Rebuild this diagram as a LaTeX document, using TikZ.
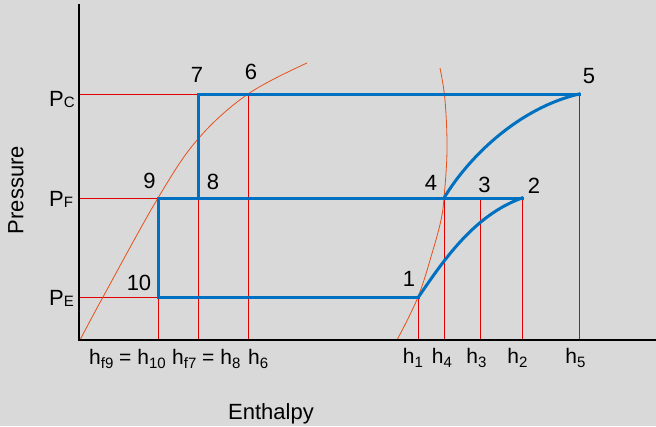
\documentclass[tikz,border=0pt]{standalone}
\usepackage{fontspec}
\setmainfont{Liberation Sans}
\definecolor{bgc}{HTML}{D9D9D9}
\definecolor{cyc}{HTML}{0070C0}
\definecolor{guide}{HTML}{E00000}
\definecolor{satc}{HTML}{E8501A}
\newcommand\lowsub[1]{\raisebox{-4pt}{\fontsize{15}{15}\selectfont #1}}
\newcommand\psub[1]{\raisebox{-1pt}{\fontsize{15}{15}\selectfont #1}}
\tikzset{
  axisline/.style={draw=black, line width=1.3pt},
  guideline/.style={draw=guide, line width=1pt},
  satline/.style={draw=satc, line width=0.8pt},
  cycline/.style={draw=cyc, line width=3pt, line cap=rect, line join=miter},
  ptlabel/.style={font=\fontsize{22}{24}\selectfont, inner sep=0pt},
  plabel/.style={font=\fontsize{22}{24}\selectfont, inner sep=0pt, anchor=base west},
  hlabel/.style={font=\fontsize{21}{24}\selectfont, inner sep=0pt, anchor=base},
  hleft/.style={font=\fontsize{21}{24}\selectfont, inner sep=0pt, anchor=base west},
  axtitle/.style={font=\fontsize{22}{24}\selectfont, inner sep=0pt}
}
\begin{document}
\begin{tikzpicture}[x=1pt,y=-1pt]
\fill[bgc] (0,0) rectangle (656,426);
\useasboundingbox (0,0) rectangle (656,426);

% axes
\coordinate (O) at (79,340);
\coordinate (ytop) at (79,4);
\coordinate (xend) at (656,340);

% state points
\coordinate (p1) at (418.5,297);
\coordinate (p2) at (522,198);
\coordinate (p3) at (480,198);
\coordinate (p4) at (444,198);
\coordinate (p5) at (579,94);
\coordinate (p6) at (248,94);
\coordinate (p7) at (198,94);
\coordinate (p8) at (198,198);
\coordinate (p9) at (158,198);
\coordinate (p10) at (158,297);

% red guide lines
\draw[guideline] (p7 -| O) -- (p7);
\draw[guideline] (p9 -| O) -- (p9);
\draw[guideline] (p10 -| O) -- (p10);
\foreach \p in {p9,p8,p6,p1,p4,p3,p2,p5}
  \draw[guideline] (\p) -- (\p |- O);

% saturation dome
\draw[satline] plot[smooth, tension=0.6] coordinates
  {(80,340) (103,297) (158,198) (198,139) (248,94) (307,63)};
\draw[satline] plot[smooth, tension=0.6] coordinates
  {(397,340) (418,297) (433,250) (441,220) (444,198) (447,150) (445,100) (440,68)};

% cycle
\draw[cycline] (p10) -- (p1);
\draw[cycline] (p1) .. controls (445,258) and (475,215) .. (p2);
\draw[cycline] (p9) -- (p2);
\draw[cycline] (p4) .. controls (470,155) and (520,108) .. (p5);
\draw[cycline] (p5) -- (p7);
\draw[cycline] (p7) -- (p8);
\draw[cycline] (p9) -- (p10);

% axes on top
\draw[axisline] (ytop) -- (O) -- (xend);

% point labels
\node[ptlabel] (l1) at (409,278.5) {1};
\node[ptlabel] (l2) at (534,185.5) {2};
\node[ptlabel] (l3) at (484.5,184.5) {3};
\node[ptlabel] (l4) at (431,182.5) {4};
\node[ptlabel] (l5) at (589,76.5) {5};
\node[ptlabel] (l6) at (251,72) {6};
\node[ptlabel] (l7) at (197,75) {7};
\node[ptlabel] (l8) at (213,182) {8};
\node[ptlabel] (l9) at (149.5,181) {9};
\node[ptlabel] (l10) at (139,283) {10};

% pressure labels
\node[plabel] (pc) at (49,106) {P\psub{C}};
\node[plabel] (pf) at (49,206) {P\psub{F}};
\node[plabel] (pe) at (49,305) {P\psub{E}};

% enthalpy labels
\node[hleft] (hf9) at (89,364) {h\lowsub{f9} = h\lowsub{10}};
\node[hleft] (hf7) at (172,364) {h\lowsub{f7} = h\lowsub{8}};
\node[hleft] (h6) at (248,364) {h\lowsub{6}};
\node[hlabel] (h1) at (413,363) {h\lowsub{1}};
\node[hlabel] (h4) at (442,363) {h\lowsub{4}};
\node[hlabel] (h3) at (476.5,363) {h\lowsub{3}};
\node[hlabel] (h2) at (517.5,363) {h\lowsub{2}};
\node[hlabel] (h5) at (575.5,363) {h\lowsub{5}};

% axis titles
\node[axtitle, rotate=90] (ylab) at (16,190) {Pressure};
\node[axtitle, anchor=base] (xlab) at (271,419) {Enthalpy};
\end{tikzpicture}
\end{document}
